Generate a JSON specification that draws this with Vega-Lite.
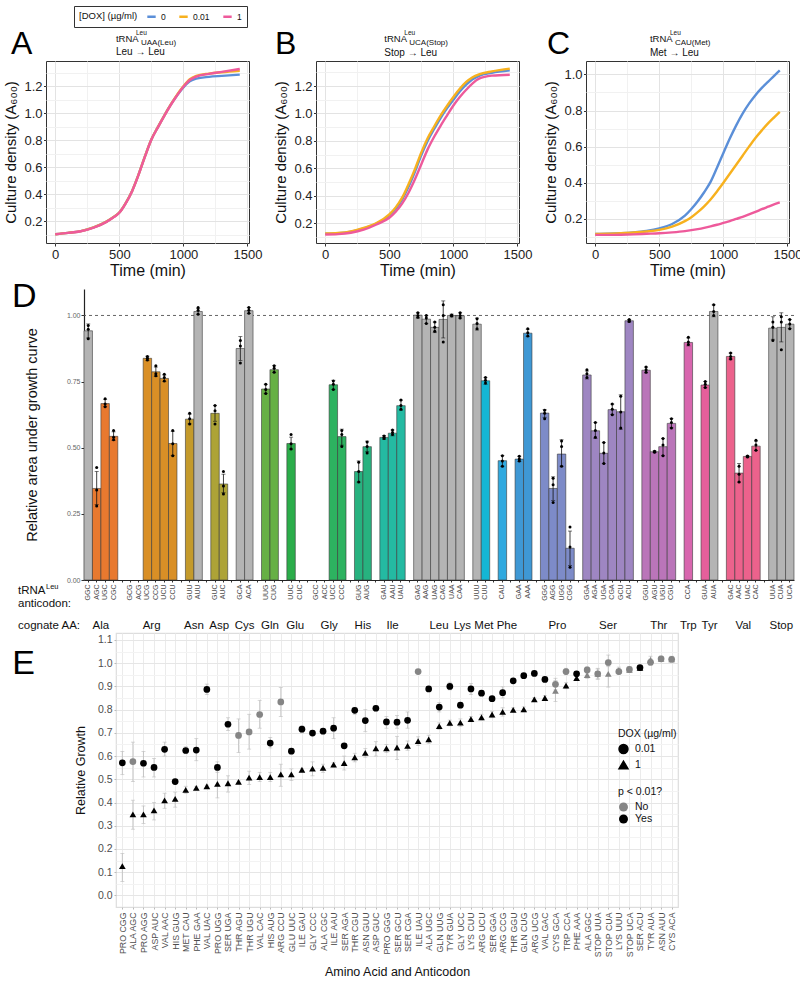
{
"$schema": "https://vega.github.io/schema/vega-lite/v6.json",
"background": "white",
"padding": {"left": 3, "top": 5, "right": 1, "bottom": 3},
"config": {"font": "Liberation Sans", "axis": {"titleFontWeight": "normal", "labelOverlap": false, "labelBound": false}, "legend": {"titleFontWeight": "normal"}},
"datasets": {
"curves": [
{"p":"A","d":"0","t":[0,100,200,300,400,450,500,550,600,650,700,750,800,850,900,950,1000,1050,1100,1200,1300,1440],"v":[0.105,0.115,0.128,0.155,0.198,0.228,0.265,0.335,0.425,0.545,0.68,0.805,0.895,0.98,1.06,1.13,1.19,1.235,1.255,1.268,1.275,1.284]},
{"p":"A","d":"0.01","t":[0,100,200,300,400,450,500,550,600,650,700,750,800,850,900,950,1000,1050,1100,1200,1300,1440],"v":[0.105,0.115,0.128,0.155,0.198,0.228,0.265,0.335,0.425,0.545,0.68,0.805,0.895,0.98,1.06,1.135,1.198,1.25,1.275,1.292,1.302,1.313]},
{"p":"A","d":"1","t":[0,100,200,300,400,450,500,550,600,650,700,750,800,850,900,950,1000,1050,1100,1200,1300,1440],"v":[0.105,0.115,0.127,0.153,0.196,0.226,0.263,0.333,0.423,0.543,0.678,0.803,0.893,0.978,1.058,1.13,1.195,1.245,1.27,1.29,1.305,1.326]},
{"p":"B","d":"0","t":[0,100,200,300,400,500,550,600,650,700,750,800,850,900,950,1000,1050,1100,1150,1200,1300,1440],"v":[0.122,0.126,0.138,0.162,0.196,0.257,0.305,0.372,0.465,0.575,0.697,0.802,0.887,0.967,1.037,1.1,1.16,1.21,1.25,1.275,1.297,1.315]},
{"p":"B","d":"0.01","t":[0,100,200,300,400,500,550,600,650,700,750,800,850,900,950,1000,1050,1100,1150,1200,1300,1440],"v":[0.124,0.128,0.14,0.165,0.2,0.264,0.315,0.386,0.484,0.594,0.716,0.821,0.905,0.985,1.055,1.12,1.18,1.23,1.265,1.286,1.307,1.327]},
{"p":"B","d":"1","t":[0,100,200,300,400,500,550,600,650,700,750,800,850,900,950,1000,1050,1100,1150,1200,1300,1440],"v":[0.117,0.12,0.13,0.152,0.19,0.239,0.283,0.342,0.422,0.52,0.63,0.74,0.83,0.91,0.985,1.058,1.12,1.173,1.22,1.254,1.276,1.283]},
{"p":"C","d":"0","t":[0,100,200,300,400,500,600,700,750,800,850,900,950,1000,1050,1100,1150,1200,1250,1300,1350,1400,1440],"v":[0.117,0.118,0.121,0.126,0.134,0.148,0.172,0.218,0.255,0.298,0.348,0.405,0.483,0.565,0.645,0.718,0.783,0.838,0.885,0.925,0.96,0.995,1.022]},
{"p":"C","d":"0.01","t":[0,100,200,300,400,500,600,700,750,800,850,900,950,1000,1050,1100,1150,1200,1250,1300,1350,1400,1440],"v":[0.117,0.118,0.121,0.125,0.131,0.14,0.158,0.188,0.21,0.238,0.27,0.308,0.352,0.4,0.45,0.5,0.55,0.6,0.648,0.69,0.73,0.765,0.793]},
{"p":"C","d":"1","t":[0,100,200,300,400,500,600,700,750,800,850,900,950,1000,1050,1100,1150,1200,1250,1300,1350,1400,1440],"v":[0.112,0.112,0.113,0.115,0.118,0.121,0.126,0.133,0.138,0.144,0.151,0.159,0.168,0.178,0.188,0.2,0.212,0.225,0.239,0.254,0.268,0.282,0.292]}
],
"bars": [
{"k":"Ala GGC","g":"ns","m":0.942,"lo":0.915,"hi":0.968,"r":[0.962,0.948,0.912]},
{"k":"Ala AGC","g":"Ala","m":0.346,"lo":0.285,"hi":0.41,"r":[0.425,0.34,0.28]},
{"k":"Ala UGC","g":"Ala","m":0.667,"lo":0.655,"hi":0.683,"r":[0.685,0.665,0.655]},
{"k":"Ala CGC","g":"Ala","m":0.543,"lo":0.528,"hi":0.56,"r":[0.565,0.54,0.53]},
{"k":"Arg UCG","g":"Arg","m":0.838,"lo":0.83,"hi":0.846,"r":[0.845,0.838,0.832]},
{"k":"Arg CCG","g":"Arg","m":0.787,"lo":0.77,"hi":0.805,"r":[0.81,0.78,0.772]},
{"k":"Arg UCU","g":"Arg","m":0.762,"lo":0.75,"hi":0.775,"r":[0.778,0.765,0.752]},
{"k":"Arg CCU","g":"Arg","m":0.516,"lo":0.47,"hi":0.562,"r":[0.565,0.515,0.47]},
{"k":"Asn GUU","g":"Asn","m":0.608,"lo":0.59,"hi":0.627,"r":[0.63,0.61,0.59]},
{"k":"Asn AUU","g":"ns","m":1.015,"lo":1.005,"hi":1.027,"r":[1.03,1.02,1.005]},
{"k":"Asp GUC","g":"Asp","m":0.63,"lo":0.6,"hi":0.66,"r":[0.66,0.64,0.59]},
{"k":"Asp AUC","g":"Asp","m":0.363,"lo":0.33,"hi":0.4,"r":[0.41,0.355,0.325]},
{"k":"Cys GCA","g":"ns","m":0.875,"lo":0.83,"hi":0.92,"r":[0.905,0.885,0.82]},
{"k":"Cys ACA","g":"ns","m":1.018,"lo":1.008,"hi":1.03,"r":[1.03,1.02,1.008]},
{"k":"Gln UUG","g":"Gln","m":0.722,"lo":0.705,"hi":0.74,"r":[0.74,0.72,0.705]},
{"k":"Gln CUG","g":"Gln","m":0.795,"lo":0.785,"hi":0.81,"r":[0.81,0.8,0.785]},
{"k":"Glu UUC","g":"Glu","m":0.516,"lo":0.495,"hi":0.54,"r":[0.55,0.515,0.495]},
{"k":"Gly UCC","g":"Gly","m":0.738,"lo":0.72,"hi":0.755,"r":[0.752,0.74,0.72]},
{"k":"Gly CCC","g":"Gly","m":0.542,"lo":0.51,"hi":0.57,"r":[0.565,0.55,0.505]},
{"k":"His GUG","g":"His","m":0.41,"lo":0.37,"hi":0.45,"r":[0.445,0.41,0.37]},
{"k":"His AUG","g":"His","m":0.504,"lo":0.485,"hi":0.525,"r":[0.522,0.505,0.48]},
{"k":"Ile GAU","g":"Ile","m":0.539,"lo":0.532,"hi":0.546,"r":[0.544,0.54,0.535]},
{"k":"Ile AAU","g":"Ile","m":0.555,"lo":0.545,"hi":0.567,"r":[0.567,0.558,0.55]},
{"k":"Ile UAU","g":"Ile","m":0.659,"lo":0.642,"hi":0.68,"r":[0.68,0.66,0.645]},
{"k":"Leu GAG","g":"ns","m":1.001,"lo":0.99,"hi":1.01,"r":[1.01,1.0,0.993]},
{"k":"Leu AAG","g":"ns","m":0.986,"lo":0.97,"hi":1.0,"r":[1.0,0.99,0.97]},
{"k":"Leu UAG","g":"ns","m":0.955,"lo":0.935,"hi":0.975,"r":[0.975,0.955,0.94]},
{"k":"Leu CAG","g":"ns","m":0.985,"lo":0.915,"hi":1.055,"r":[1.04,1.0,0.9]},
{"k":"Leu UAA","g":"ns","m":1.0,"lo":0.995,"hi":1.005,"r":[1.002,1.0,0.998]},
{"k":"Leu CAA","g":"ns","m":0.999,"lo":0.99,"hi":1.01,"r":[1.01,1.0,0.99]},
{"k":"Lys UUU","g":"ns","m":0.967,"lo":0.945,"hi":0.99,"r":[0.988,0.97,0.95]},
{"k":"Lys CUU","g":"Lys","m":0.753,"lo":0.74,"hi":0.765,"r":[0.765,0.755,0.745]},
{"k":"Met CAU","g":"Met","m":0.451,"lo":0.43,"hi":0.47,"r":[0.47,0.45,0.43]},
{"k":"Phe GAA","g":"Phe","m":0.457,"lo":0.448,"hi":0.468,"r":[0.468,0.457,0.45]},
{"k":"Phe AAA","g":"Phe","m":0.933,"lo":0.92,"hi":0.948,"r":[0.95,0.935,0.922]},
{"k":"Pro GGG","g":"Pro","m":0.631,"lo":0.615,"hi":0.645,"r":[0.642,0.63,0.61]},
{"k":"Pro AGG","g":"Pro","m":0.346,"lo":0.3,"hi":0.39,"r":[0.385,0.36,0.293]},
{"k":"Pro UGG","g":"Pro","m":0.476,"lo":0.43,"hi":0.53,"r":[0.525,0.505,0.43]},
{"k":"Pro CGG","g":"Pro","m":0.12,"lo":0.055,"hi":0.185,"r":[0.2,0.125,0.048]},
{"k":"Ser GGA","g":"Ser","m":0.775,"lo":0.76,"hi":0.79,"r":[0.795,0.78,0.765]},
{"k":"Ser AGA","g":"Ser","m":0.564,"lo":0.535,"hi":0.595,"r":[0.595,0.565,0.54]},
{"k":"Ser UGA","g":"Ser","m":0.479,"lo":0.44,"hi":0.52,"r":[0.52,0.48,0.44]},
{"k":"Ser CGA","g":"Ser","m":0.644,"lo":0.625,"hi":0.665,"r":[0.665,0.645,0.625]},
{"k":"Ser GCU","g":"Ser","m":0.636,"lo":0.57,"hi":0.7,"r":[0.695,0.635,0.575]},
{"k":"Ser ACU","g":"Ser","m":0.98,"lo":0.975,"hi":0.985,"r":[0.985,0.98,0.977]},
{"k":"Thr GGU","g":"Thr","m":0.793,"lo":0.783,"hi":0.805,"r":[0.805,0.795,0.785]},
{"k":"Thr AGU","g":"Thr","m":0.485,"lo":0.482,"hi":0.488,"r":[0.487,0.485,0.483]},
{"k":"Thr UGU","g":"Thr","m":0.504,"lo":0.47,"hi":0.535,"r":[0.535,0.51,0.47]},
{"k":"Thr CGU","g":"Thr","m":0.592,"lo":0.575,"hi":0.61,"r":[0.61,0.595,0.575]},
{"k":"Trp CCA","g":"Trp","m":0.898,"lo":0.885,"hi":0.915,"r":[0.918,0.9,0.89]},
{"k":"Tyr GUA","g":"Tyr","m":0.737,"lo":0.727,"hi":0.75,"r":[0.75,0.74,0.728]},
{"k":"Tyr AUA","g":"ns","m":1.015,"lo":0.995,"hi":1.04,"r":[1.04,1.015,1.0]},
{"k":"Val GAC","g":"Val","m":0.845,"lo":0.835,"hi":0.858,"r":[0.858,0.845,0.835]},
{"k":"Val AAC","g":"Val","m":0.404,"lo":0.37,"hi":0.44,"r":[0.43,0.4,0.37]},
{"k":"Val UAC","g":"Val","m":0.467,"lo":0.465,"hi":0.469,"r":[0.469,0.467,0.465]},
{"k":"Val CAC","g":"Val","m":0.506,"lo":0.49,"hi":0.525,"r":[0.528,0.51,0.49]},
{"k":"Stop UUA","g":"ns","m":0.952,"lo":0.91,"hi":0.995,"r":[0.975,0.955,0.905]},
{"k":"Stop CUA","g":"ns","m":0.955,"lo":0.9,"hi":1.01,"r":[0.995,0.975,0.87]},
{"k":"Stop UCA","g":"ns","m":0.967,"lo":0.95,"hi":0.985,"r":[0.985,0.968,0.95]}
],
"aag": [
{"aa":"Ala","at":"Ala AGC","n":4},{"aa":"Arg","at":"Arg UCG","n":6},{"aa":"Asn","at":"Asn GUU","n":2},{"aa":"Asp","at":"Asp GUC","n":2},{"aa":"Cys","at":"Cys GCA","n":2},{"aa":"Gln","at":"Gln UUG","n":2},{"aa":"Glu","at":"Glu UUC","n":2},{"aa":"Gly","at":"Gly ACC","n":4},{"aa":"His","at":"His GUG","n":2},{"aa":"Ile","at":"Ile AAU","n":3},{"aa":"Leu","at":"Leu UAG","n":6},{"aa":"Pro","at":"Pro AGG","n":4},{"aa":"Ser","at":"Ser UGA","n":6},{"aa":"Thr","at":"Thr AGU","n":4},{"aa":"Trp","at":"Trp CCA","n":1},{"aa":"Tyr","at":"Tyr GUA","n":2},{"aa":"Val","at":"Val AAC","n":4},{"aa":"Stop","at":"Stop CUA","n":3}
],
"E": [
{"k":"PRO CGG","d":"0.01","v":0.571,"lo":0.52,"hi":0.62,"s":"Yes"},{"k":"PRO CGG","d":"1","v":0.126,"lo":0.06,"hi":0.18,"s":"Yes"},
{"k":"ALA AGC","d":"0.01","v":0.576,"lo":0.49,"hi":0.66,"s":"No"},{"k":"ALA AGC","d":"1","v":0.349,"lo":0.285,"hi":0.41,"s":"Yes"},
{"k":"PRO AGG","d":"0.01","v":0.569,"lo":0.51,"hi":0.62,"s":"Yes"},{"k":"PRO AGG","d":"1","v":0.349,"lo":0.31,"hi":0.385,"s":"Yes"},
{"k":"ASP AUC","d":"0.01","v":0.551,"lo":0.51,"hi":0.59,"s":"Yes"},{"k":"ASP AUC","d":"1","v":0.366,"lo":0.325,"hi":0.4,"s":"Yes"},
{"k":"VAL AAC","d":"0.01","v":0.629,"lo":0.6,"hi":0.66,"s":"Yes"},{"k":"VAL AAC","d":"1","v":0.409,"lo":0.375,"hi":0.44,"s":"Yes"},
{"k":"HIS GUG","d":"0.01","v":0.49,"lo":0.48,"hi":0.5,"s":"Yes"},{"k":"HIS GUG","d":"1","v":0.416,"lo":0.38,"hi":0.445,"s":"Yes"},
{"k":"MET CAU","d":"0.01","v":0.624,"lo":0.61,"hi":0.64,"s":"Yes"},{"k":"MET CAU","d":"1","v":0.454,"lo":0.44,"hi":0.47,"s":"Yes"},
{"k":"PHE GAA","d":"0.01","v":0.626,"lo":0.58,"hi":0.675,"s":"Yes"},{"k":"PHE GAA","d":"1","v":0.463,"lo":0.455,"hi":0.47,"s":"Yes"},
{"k":"VAL UAC","d":"0.01","v":0.887,"lo":0.865,"hi":0.91,"s":"Yes"},{"k":"VAL UAC","d":"1","v":0.47,"lo":0.465,"hi":0.475,"s":"Yes"},
{"k":"PRO UGG","d":"0.01","v":0.551,"lo":0.53,"hi":0.575,"s":"Yes"},{"k":"PRO UGG","d":"1","v":0.48,"lo":0.42,"hi":0.54,"s":"Yes"},
{"k":"SER UGA","d":"0.01","v":0.737,"lo":0.71,"hi":0.765,"s":"Yes"},{"k":"SER UGA","d":"1","v":0.483,"lo":0.445,"hi":0.515,"s":"Yes"},
{"k":"THR AGU","d":"0.01","v":0.689,"lo":0.615,"hi":0.76,"s":"No"},{"k":"THR AGU","d":"1","v":0.489,"lo":0.485,"hi":0.493,"s":"Yes"},
{"k":"THR UGU","d":"0.01","v":0.704,"lo":0.63,"hi":0.78,"s":"No"},{"k":"THR UGU","d":"1","v":0.507,"lo":0.478,"hi":0.535,"s":"Yes"},
{"k":"VAL CAC","d":"0.01","v":0.779,"lo":0.72,"hi":0.84,"s":"No"},{"k":"VAL CAC","d":"1","v":0.509,"lo":0.49,"hi":0.53,"s":"Yes"},
{"k":"HIS AUG","d":"0.01","v":0.656,"lo":0.635,"hi":0.68,"s":"Yes"},{"k":"HIS AUG","d":"1","v":0.509,"lo":0.49,"hi":0.53,"s":"Yes"},
{"k":"ARG CCU","d":"0.01","v":0.833,"lo":0.77,"hi":0.895,"s":"No"},{"k":"ARG CCU","d":"1","v":0.521,"lo":0.47,"hi":0.565,"s":"Yes"},
{"k":"GLU UUC","d":"0.01","v":0.621,"lo":0.61,"hi":0.632,"s":"Yes"},{"k":"GLU UUC","d":"1","v":0.521,"lo":0.495,"hi":0.545,"s":"Yes"},
{"k":"ILE GAU","d":"0.01","v":0.716,"lo":0.7,"hi":0.73,"s":"Yes"},{"k":"ILE GAU","d":"1","v":0.541,"lo":0.535,"hi":0.547,"s":"Yes"},
{"k":"GLY CCC","d":"0.01","v":0.699,"lo":0.69,"hi":0.708,"s":"Yes"},{"k":"GLY CCC","d":"1","v":0.546,"lo":0.515,"hi":0.575,"s":"Yes"},
{"k":"ALA CGC","d":"0.01","v":0.707,"lo":0.698,"hi":0.716,"s":"Yes"},{"k":"ALA CGC","d":"1","v":0.549,"lo":0.53,"hi":0.565,"s":"Yes"},
{"k":"ILE AAU","d":"0.01","v":0.72,"lo":0.675,"hi":0.765,"s":"Yes"},{"k":"ILE AAU","d":"1","v":0.563,"lo":0.553,"hi":0.573,"s":"Yes"},
{"k":"SER AGA","d":"0.01","v":0.644,"lo":0.635,"hi":0.653,"s":"Yes"},{"k":"SER AGA","d":"1","v":0.57,"lo":0.54,"hi":0.6,"s":"Yes"},
{"k":"THR CGU","d":"0.01","v":0.797,"lo":0.78,"hi":0.81,"s":"Yes"},{"k":"THR CGU","d":"1","v":0.594,"lo":0.575,"hi":0.612,"s":"Yes"},
{"k":"ASN GUU","d":"0.01","v":0.753,"lo":0.705,"hi":0.8,"s":"Yes"},{"k":"ASN GUU","d":"1","v":0.614,"lo":0.595,"hi":0.632,"s":"Yes"},
{"k":"ASP GUC","d":"0.01","v":0.806,"lo":0.795,"hi":0.817,"s":"Yes"},{"k":"ASP GUC","d":"1","v":0.633,"lo":0.6,"hi":0.662,"s":"Yes"},
{"k":"PRO GGG","d":"0.01","v":0.747,"lo":0.72,"hi":0.77,"s":"Yes"},{"k":"PRO GGG","d":"1","v":0.633,"lo":0.615,"hi":0.65,"s":"Yes"},
{"k":"SER GCU","d":"0.01","v":0.746,"lo":0.72,"hi":0.775,"s":"Yes"},{"k":"SER GCU","d":"1","v":0.637,"lo":0.585,"hi":0.685,"s":"Yes"},
{"k":"SER CGA","d":"0.01","v":0.754,"lo":0.72,"hi":0.79,"s":"Yes"},{"k":"SER CGA","d":"1","v":0.644,"lo":0.625,"hi":0.665,"s":"Yes"},
{"k":"ILE UAU","d":"0.01","v":0.964,"lo":0.955,"hi":0.973,"s":"No"},{"k":"ILE UAU","d":"1","v":0.664,"lo":0.645,"hi":0.683,"s":"Yes"},
{"k":"ALA UGC","d":"0.01","v":0.889,"lo":0.88,"hi":0.898,"s":"Yes"},{"k":"ALA UGC","d":"1","v":0.672,"lo":0.655,"hi":0.69,"s":"Yes"},
{"k":"GLN UUG","d":"0.01","v":0.811,"lo":0.79,"hi":0.83,"s":"Yes"},{"k":"GLN UUG","d":"1","v":0.729,"lo":0.715,"hi":0.743,"s":"Yes"},
{"k":"TYR GUA","d":"0.01","v":0.9,"lo":0.885,"hi":0.918,"s":"Yes"},{"k":"TYR GUA","d":"1","v":0.743,"lo":0.73,"hi":0.755,"s":"Yes"},
{"k":"GLY UCC","d":"0.01","v":0.819,"lo":0.81,"hi":0.828,"s":"Yes"},{"k":"GLY UCC","d":"1","v":0.744,"lo":0.728,"hi":0.76,"s":"Yes"},
{"k":"LYS CUU","d":"0.01","v":0.889,"lo":0.865,"hi":0.912,"s":"Yes"},{"k":"LYS CUU","d":"1","v":0.759,"lo":0.748,"hi":0.77,"s":"Yes"},
{"k":"ARG UCU","d":"0.01","v":0.871,"lo":0.86,"hi":0.882,"s":"Yes"},{"k":"ARG UCU","d":"1","v":0.767,"lo":0.755,"hi":0.78,"s":"Yes"},
{"k":"SER GGA","d":"0.01","v":0.847,"lo":0.838,"hi":0.856,"s":"Yes"},{"k":"SER GGA","d":"1","v":0.779,"lo":0.765,"hi":0.793,"s":"Yes"},
{"k":"ARG CCG","d":"0.01","v":0.873,"lo":0.85,"hi":0.898,"s":"Yes"},{"k":"ARG CCG","d":"1","v":0.79,"lo":0.772,"hi":0.808,"s":"Yes"},
{"k":"THR GGU","d":"0.01","v":0.924,"lo":0.915,"hi":0.933,"s":"Yes"},{"k":"THR GGU","d":"1","v":0.799,"lo":0.79,"hi":0.808,"s":"Yes"},
{"k":"GLN CUG","d":"0.01","v":0.946,"lo":0.938,"hi":0.954,"s":"Yes"},{"k":"GLN CUG","d":"1","v":0.801,"lo":0.79,"hi":0.812,"s":"Yes"},
{"k":"ARG UCG","d":"0.01","v":0.956,"lo":0.95,"hi":0.962,"s":"Yes"},{"k":"ARG UCG","d":"1","v":0.844,"lo":0.836,"hi":0.852,"s":"Yes"},
{"k":"VAL GAC","d":"0.01","v":0.93,"lo":0.92,"hi":0.94,"s":"Yes"},{"k":"VAL GAC","d":"1","v":0.85,"lo":0.84,"hi":0.86,"s":"Yes"},
{"k":"CYS GCA","d":"0.01","v":0.909,"lo":0.885,"hi":0.935,"s":"No"},{"k":"CYS GCA","d":"1","v":0.881,"lo":0.835,"hi":0.925,"s":"No"},
{"k":"TRP CCA","d":"0.01","v":0.964,"lo":0.95,"hi":0.978,"s":"No"},{"k":"TRP CCA","d":"1","v":0.903,"lo":0.89,"hi":0.916,"s":"Yes"},
{"k":"PHE AAA","d":"0.01","v":0.954,"lo":0.945,"hi":0.963,"s":"Yes"},{"k":"PHE AAA","d":"1","v":0.936,"lo":0.925,"hi":0.947,"s":"Yes"},
{"k":"ALA GGC","d":"0.01","v":0.971,"lo":0.958,"hi":0.984,"s":"No"},{"k":"ALA GGC","d":"1","v":0.949,"lo":0.935,"hi":0.963,"s":"No"},
{"k":"STOP UUA","d":"0.01","v":0.954,"lo":0.935,"hi":0.975,"s":"No"},{"k":"STOP UUA","d":"1","v":0.954,"lo":0.93,"hi":0.978,"s":"No"},
{"k":"STOP CUA","d":"0.01","v":1.003,"lo":0.985,"hi":1.035,"s":"No"},{"k":"STOP CUA","d":"1","v":0.954,"lo":0.897,"hi":0.99,"s":"No"},
{"k":"LYS UUU","d":"0.01","v":0.964,"lo":0.952,"hi":0.976,"s":"No"},{"k":"LYS UUU","d":"1","v":0.969,"lo":0.955,"hi":0.983,"s":"No"},
{"k":"STOP UCA","d":"0.01","v":0.973,"lo":0.962,"hi":0.984,"s":"No"},{"k":"STOP UCA","d":"1","v":0.971,"lo":0.96,"hi":0.982,"s":"No"},
{"k":"SER ACU","d":"0.01","v":0.981,"lo":0.976,"hi":0.986,"s":"Yes"},{"k":"SER ACU","d":"1","v":0.98,"lo":0.975,"hi":0.985,"s":"Yes"},
{"k":"TYR AUA","d":"0.01","v":1.004,"lo":0.99,"hi":1.018,"s":"No"},{"k":"TYR AUA","d":"1","v":1.014,"lo":1.0,"hi":1.03,"s":"No"},
{"k":"ASN AUU","d":"0.01","v":1.019,"lo":1.008,"hi":1.03,"s":"No"},{"k":"ASN AUU","d":"1","v":1.019,"lo":1.008,"hi":1.03,"s":"No"},
{"k":"CYS ACA","d":"0.01","v":1.017,"lo":1.005,"hi":1.03,"s":"No"},{"k":"CYS ACA","d":"1","v":1.017,"lo":1.006,"hi":1.028,"s":"No"}
]
},
"spacing": 0,
"resolve": {"scale": {"x": "independent", "y": "independent", "color": "independent", "shape": "independent"}, "legend": {"color": "independent", "shape": "independent"}},
"vconcat": [
{
"hconcat": [
{
"width": 203, "height": 182,
"view": {"stroke": "#333333", "strokeWidth": 1},
"layer": [
{"data": {"name": "curves"}, "transform": [{"filter": "datum.p == 'A'"}, {"flatten": ["t", "v"]}],
 "mark": {"type": "line", "strokeWidth": 2.4, "interpolate": "monotone", "clip": true},
 "encoding": {
  "x": {"field": "t", "type": "quantitative", "scale": {"domain": [-72, 1512], "nice": false, "zero": false},
   "axis": {"title": "Time (min)", "values": [0,250,500,750,1000,1250,1500], "tickCount": 50, "format": "d", "labelExpr": "datum.value % 500 == 0 ? datum.label : ''", "labelFlush": false, "labelOverlap": false, "labelFontSize": 13, "labelColor": "#222", "labelPadding": 2, "tickColor": "#333", "tickSize": 3, "tickOpacity": {"condition": {"test": "datum.value % 500 == 0", "value": 1}, "value": 0}, "domain": false, "grid": true, "gridColor": {"condition": {"test": "datum.value % 500 == 0", "value": "#E3E3E3"}, "value": "#F1F1F1"}, "titleFontSize": 16, "titleColor": "#111", "titlePadding": 1}},
  "y": {"field": "v", "type": "quantitative", "scale": {"domain": [0.04, 1.385], "nice": false, "zero": false},
   "axis": {"title": "Culture density (A₆₀₀)", "values": [0.1,0.2,0.3,0.4,0.5,0.6,0.7,0.8,0.9,1.0,1.1,1.2,1.3], "tickCount": 50, "format": ".1f", "labelExpr": "round(datum.value*10) % 2 == 0 ? datum.label : ''", "labelOverlap": false, "labelFlush": false, "labelFontSize": 13, "labelColor": "#222", "labelPadding": 1.5, "tickColor": "#333", "tickSize": 2.5, "tickOpacity": {"condition": {"test": "round(datum.value*10) % 2 == 0", "value": 1}, "value": 0}, "domain": false, "grid": true, "gridColor": {"condition": {"test": "round(datum.value*10) % 2 == 0", "value": "#E3E3E3"}, "value": "#F1F1F1"}, "titleFontSize": 15, "titleColor": "#111", "titlePadding": 5}},
  "color": {"field": "d", "type": "nominal", "scale": {"domain": ["0","0.01","1"], "range": ["#5B8FD8","#F7B11E","#EE5A9B"]},
   "legend": {"orient": "none", "legendX": 28, "legendY": -55, "direction": "horizontal", "titleOrient": "left", "title": "[DOX] (µg/ml)", "titleFontSize": 9.5, "titleColor": "#111", "titlePadding": 8, "labelFontSize": 8.5, "labelColor": "#111", "symbolType": "stroke", "symbolStrokeWidth": 2.5, "symbolSize": 70, "strokeColor": "#333", "fillColor": "white", "padding": 5, "columnPadding": 8, "labelOffset": 4}}
 }},
{"data": {"values": [{"s": "tRNA"}]}, "mark": {"type": "text", "align": "left", "fontSize": 9.5, "color": "#111"}, "encoding": {"x": {"datum": 474, "type": "quantitative"}, "y": {"datum": 1.548, "type": "quantitative"}, "text": {"field": "s"}}},
{"data": {"values": [{"s": "Leu"}]}, "mark": {"type": "text", "align": "left", "fontSize": 6.5, "dx": 20, "color": "#111"}, "encoding": {"x": {"datum": 474, "type": "quantitative"}, "y": {"datum": 1.595, "type": "quantitative"}, "text": {"field": "s"}}},
{"data": {"values": [{"s": "UAA(Leu)"}]}, "mark": {"type": "text", "align": "left", "fontSize": 8, "dx": 25, "color": "#111"}, "encoding": {"x": {"datum": 474, "type": "quantitative"}, "y": {"datum": 1.515, "type": "quantitative"}, "text": {"field": "s"}}},
{"data": {"values": [{"s": "Leu → Leu"}]}, "mark": {"type": "text", "align": "left", "fontSize": 10, "color": "#111"}, "encoding": {"x": {"datum": 474, "type": "quantitative"}, "y": {"datum": 1.448, "type": "quantitative"}, "text": {"field": "s"}}},
{"data": {"values": [{"s": "A"}]}, "mark": {"type": "text", "align": "left", "fontSize": 32, "color": "#000"}, "encoding": {"x": {"datum": -345, "type": "quantitative"}, "y": {"datum": 1.511, "type": "quantitative"}, "text": {"field": "s"}}}
]
},
{
"width": 203, "height": 182,
"view": {"stroke": "#333333", "strokeWidth": 1},
"layer": [
{"data": {"name": "curves"}, "transform": [{"filter": "datum.p == 'B'"}, {"flatten": ["t", "v"]}],
 "mark": {"type": "line", "strokeWidth": 2.4, "interpolate": "monotone", "clip": true},
 "encoding": {
  "x": {"field": "t", "type": "quantitative", "scale": {"domain": [-72, 1512], "nice": false, "zero": false},
   "axis": {"title": "Time (min)", "values": [0,250,500,750,1000,1250,1500], "tickCount": 50, "format": "d", "labelExpr": "datum.value % 500 == 0 ? datum.label : ''", "labelFlush": false, "labelOverlap": false, "labelFontSize": 13, "labelColor": "#222", "labelPadding": 2, "tickColor": "#333", "tickSize": 3, "tickOpacity": {"condition": {"test": "datum.value % 500 == 0", "value": 1}, "value": 0}, "domain": false, "grid": true, "gridColor": {"condition": {"test": "datum.value % 500 == 0", "value": "#E3E3E3"}, "value": "#F1F1F1"}, "titleFontSize": 16, "titleColor": "#111", "titlePadding": 1}},
  "y": {"field": "v", "type": "quantitative", "scale": {"domain": [0.055, 1.383], "nice": false, "zero": false},
   "axis": {"title": "Culture density (A₆₀₀)", "values": [0.1,0.2,0.3,0.4,0.5,0.6,0.7,0.8,0.9,1.0,1.1,1.2,1.3], "tickCount": 50, "format": ".1f", "labelExpr": "round(datum.value*10) % 2 == 0 ? datum.label : ''", "labelOverlap": false, "labelFlush": false, "labelFontSize": 13, "labelColor": "#222", "labelPadding": 1.5, "tickColor": "#333", "tickSize": 2.5, "tickOpacity": {"condition": {"test": "round(datum.value*10) % 2 == 0", "value": 1}, "value": 0}, "domain": false, "grid": true, "gridColor": {"condition": {"test": "round(datum.value*10) % 2 == 0", "value": "#E3E3E3"}, "value": "#F1F1F1"}, "titleFontSize": 15, "titleColor": "#111", "titlePadding": 5}},
  "color": {"field": "d", "type": "nominal", "scale": {"domain": ["0","0.01","1"], "range": ["#5B8FD8","#F7B11E","#EE5A9B"]}, "legend": null}
 }},
{"data": {"values": [{"s": "tRNA"}]}, "mark": {"type": "text", "align": "left", "fontSize": 9.5, "color": "#111"}, "encoding": {"x": {"datum": 461, "type": "quantitative"}, "y": {"datum": 1.544, "type": "quantitative"}, "text": {"field": "s"}}},
{"data": {"values": [{"s": "Leu"}]}, "mark": {"type": "text", "align": "left", "fontSize": 6.5, "dx": 20, "color": "#111"}, "encoding": {"x": {"datum": 461, "type": "quantitative"}, "y": {"datum": 1.59, "type": "quantitative"}, "text": {"field": "s"}}},
{"data": {"values": [{"s": "UCA(Stop)"}]}, "mark": {"type": "text", "align": "left", "fontSize": 8, "dx": 25, "color": "#111"}, "encoding": {"x": {"datum": 461, "type": "quantitative"}, "y": {"datum": 1.511, "type": "quantitative"}, "text": {"field": "s"}}},
{"data": {"values": [{"s": "Stop → Leu"}]}, "mark": {"type": "text", "align": "left", "fontSize": 10, "color": "#111"}, "encoding": {"x": {"datum": 461, "type": "quantitative"}, "y": {"datum": 1.445, "type": "quantitative"}, "text": {"field": "s"}}},
{"data": {"values": [{"s": "B"}]}, "mark": {"type": "text", "align": "left", "fontSize": 32, "color": "#000"}, "encoding": {"x": {"datum": -392, "type": "quantitative"}, "y": {"datum": 1.507, "type": "quantitative"}, "text": {"field": "s"}}}
]
},
{
"width": 203, "height": 182,
"view": {"stroke": "#333333", "strokeWidth": 1},
"layer": [
{"data": {"name": "curves"}, "transform": [{"filter": "datum.p == 'C'"}, {"flatten": ["t", "v"]}],
 "mark": {"type": "line", "strokeWidth": 2.4, "interpolate": "monotone", "clip": true},
 "encoding": {
  "x": {"field": "t", "type": "quantitative", "scale": {"domain": [-72, 1512], "nice": false, "zero": false},
   "axis": {"title": "Time (min)", "values": [0,250,500,750,1000,1250,1500], "tickCount": 50, "format": "d", "labelExpr": "datum.value % 500 == 0 ? datum.label : ''", "labelFlush": false, "labelOverlap": false, "labelFontSize": 13, "labelColor": "#222", "labelPadding": 2, "tickColor": "#333", "tickSize": 3, "tickOpacity": {"condition": {"test": "datum.value % 500 == 0", "value": 1}, "value": 0}, "domain": false, "grid": true, "gridColor": {"condition": {"test": "datum.value % 500 == 0", "value": "#E3E3E3"}, "value": "#F1F1F1"}, "titleFontSize": 16, "titleColor": "#111", "titlePadding": 1}},
  "y": {"field": "v", "type": "quantitative", "scale": {"domain": [0.067, 1.074], "nice": false, "zero": false},
   "axis": {"title": "Culture density (A₆₀₀)", "values": [0.1,0.2,0.3,0.4,0.5,0.6,0.7,0.8,0.9,1.0], "tickCount": 50, "format": ".1f", "labelExpr": "round(datum.value*10) % 2 == 0 ? datum.label : ''", "labelOverlap": false, "labelFlush": false, "labelFontSize": 13, "labelColor": "#222", "labelPadding": 1.5, "tickColor": "#333", "tickSize": 2.5, "tickOpacity": {"condition": {"test": "round(datum.value*10) % 2 == 0", "value": 1}, "value": 0}, "domain": false, "grid": true, "gridColor": {"condition": {"test": "round(datum.value*10) % 2 == 0", "value": "#E3E3E3"}, "value": "#F1F1F1"}, "titleFontSize": 15, "titleColor": "#111", "titlePadding": 5}},
  "color": {"field": "d", "type": "nominal", "scale": {"domain": ["0","0.01","1"], "range": ["#5B8FD8","#F7B11E","#EE5A9B"]}, "legend": null}
 }},
{"data": {"values": [{"s": "tRNA"}]}, "mark": {"type": "text", "align": "left", "fontSize": 9.5, "color": "#111"}, "encoding": {"x": {"datum": 427, "type": "quantitative"}, "y": {"datum": 1.196, "type": "quantitative"}, "text": {"field": "s"}}},
{"data": {"values": [{"s": "Leu"}]}, "mark": {"type": "text", "align": "left", "fontSize": 6.5, "dx": 20, "color": "#111"}, "encoding": {"x": {"datum": 427, "type": "quantitative"}, "y": {"datum": 1.231, "type": "quantitative"}, "text": {"field": "s"}}},
{"data": {"values": [{"s": "CAU(Met)"}]}, "mark": {"type": "text", "align": "left", "fontSize": 8, "dx": 25, "color": "#111"}, "encoding": {"x": {"datum": 427, "type": "quantitative"}, "y": {"datum": 1.171, "type": "quantitative"}, "text": {"field": "s"}}},
{"data": {"values": [{"s": "Met → Leu"}]}, "mark": {"type": "text", "align": "left", "fontSize": 10, "color": "#111"}, "encoding": {"x": {"datum": 427, "type": "quantitative"}, "y": {"datum": 1.121, "type": "quantitative"}, "text": {"field": "s"}}},
{"data": {"values": [{"s": "C"}]}, "mark": {"type": "text", "align": "left", "fontSize": 32, "color": "#000"}, "encoding": {"x": {"datum": -376, "type": "quantitative"}, "y": {"datum": 1.168, "type": "quantitative"}, "text": {"field": "s"}}}
]
}
],
"spacing": 67,
"bounds": "flush",
"resolve": {"scale": {"x": "independent", "y": "independent", "color": "independent"}, "legend": {"color": "independent"}}
},
{
"hconcat": [
{"width": 38, "height": 10, "view": {"stroke": null}, "data": {"values": []}, "mark": "point"},
{
"width": 710, "height": 291,
"view": {"stroke": null},
"data": {"name": "bars"},
"layer": [
{"data": {"values": [{}]}, "mark": {"type": "rule", "strokeDash": [3, 3], "color": "#555", "strokeWidth": 0.9}, "encoding": {"y": {"datum": 1, "type": "quantitative"}}},
{"mark": {"type": "bar", "stroke": "#3a3a3a", "strokeWidth": 0.6},
 "encoding": {
  "x": {"field": "k", "type": "nominal", "scale": {"domain": ["Ala GGC","Ala AGC","Ala UGC","Ala CGC","_1","Arg GCG","Arg ACG","Arg UCG","Arg CCG","Arg UCU","Arg CCU","_2","Asn GUU","Asn AUU","_3","Asp GUC","Asp AUC","_4","Cys GCA","Cys ACA","_5","Gln UUG","Gln CUG","_6","Glu UUC","Glu CUC","_7","Gly GCC","Gly ACC","Gly UCC","Gly CCC","_8","His GUG","His AUG","_9","Ile GAU","Ile AAU","Ile UAU","_10","Leu GAG","Leu AAG","Leu UAG","Leu CAG","Leu UAA","Leu CAA","_11","Lys UUU","Lys CUU","_12","Met CAU","_13","Phe GAA","Phe AAA","_14","Pro GGG","Pro AGG","Pro UGG","Pro CGG","_15","Ser GGA","Ser AGA","Ser UGA","Ser CGA","Ser GCU","Ser ACU","_16","Thr GGU","Thr AGU","Thr UGU","Thr CGU","_17","Trp CCA","_18","Tyr GUA","Tyr AUA","_19","Val GAC","Val AAC","Val UAC","Val CAC","_20","Stop UUA","Stop CUA","Stop UCA"], "paddingInner": 0, "paddingOuter": 0},
   "axis": {"title": null, "labelAngle": -90, "labelFontSize": 7, "labelColor": "#4d4d4d", "labelPadding": 2, "labelOverlap": false, "labelExpr": "indexof(datum.value, ' ') < 0 ? '' : split(datum.value, ' ')[1]", "tickSize": 2, "tickColor": "#333", "domainColor": "#222", "domainWidth": 1.2, "grid": false}},
  "y": {"field": "m", "type": "quantitative", "title": "Relative area under growth curve", "scale": {"domain": [0, 1.1], "nice": false, "zero": false},
   "axis": {"values": [0, 0.25, 0.5, 0.75, 1], "tickCount": 50, "format": ".2f", "labelFontSize": 7, "labelColor": "#666", "labelPadding": 1, "tickSize": 3, "tickColor": "#333", "domainColor": "#222", "domainWidth": 1.2, "grid": false, "titleFontSize": 14.5, "titleColor": "#111", "titlePadding": 27}},
  "color": {"field": "g", "type": "nominal", "scale": {"domain": ["Ala","Arg","Asn","Asp","Cys","Gln","Glu","Gly","His","Ile","Leu","Lys","Met","Phe","Pro","Ser","Thr","Trp","Tyr","Val","ns"], "range": ["#E8792F","#D98F26","#C49A2B","#ADA337","#B4B4B4","#67B045","#2BAD4A","#2DB260","#27B27F","#24BAA2","#B4B4B4","#14B6D4","#30A9DF","#3F98D4","#7D8BC8","#9E86C2","#BA75B9","#D866AE","#E55F9B","#EC628C","#B4B4B4"]}, "legend": null}
 }},
{"mark": {"type": "errorbar", "ticks": {"size": 4}, "thickness": 0.8, "color": "#111"},
 "encoding": {"x": {"field": "k", "type": "nominal"}, "y": {"field": "lo", "type": "quantitative", "title": "Relative area under growth curve"}, "y2": {"field": "hi"}}},
{"transform": [{"flatten": ["r"]}], "mark": {"type": "circle", "size": 9, "color": "#000", "opacity": 1},
 "encoding": {"x": {"field": "k", "type": "nominal"}, "y": {"field": "r", "type": "quantitative", "title": "Relative area under growth curve"}}},
{"data": {"name": "aag"}, "transform": [{"filter": "datum.n % 2 == 1"}], "mark": {"type": "text", "fontSize": 11.5, "color": "#111"},
 "encoding": {"x": {"field": "at", "type": "nominal", "bandPosition": 0.5}, "y": {"datum": -0.1727, "type": "quantitative"}, "text": {"field": "aa"}}},
{"data": {"name": "aag"}, "transform": [{"filter": "datum.n % 2 == 0"}], "mark": {"type": "text", "fontSize": 11.5, "color": "#111"},
 "encoding": {"x": {"field": "at", "type": "nominal", "bandPosition": 1}, "y": {"datum": -0.1727, "type": "quantitative"}, "text": {"field": "aa"}}},
{"data": {"values": [{"s": "Lys Met Phe"}]}, "mark": {"type": "text", "fontSize": 11.5, "color": "#111", "dx": -17},
 "encoding": {"x": {"datum": "Met CAU", "bandPosition": 0.5}, "y": {"datum": -0.1727, "type": "quantitative"}, "text": {"field": "s"}}},
{"data": {"values": [{"s": "tRNA"}]}, "mark": {"type": "text", "align": "left", "fontSize": 11.5, "color": "#111", "dx": -66},
 "encoding": {"x": {"datum": "Ala GGC", "bandPosition": 0}, "y": {"datum": -0.0404, "type": "quantitative"}, "text": {"field": "s"}}},
{"data": {"values": [{"s": "Leu"}]}, "mark": {"type": "text", "align": "left", "fontSize": 7.5, "color": "#111", "dx": -38},
 "encoding": {"x": {"datum": "Ala GGC", "bandPosition": 0}, "y": {"datum": -0.0253, "type": "quantitative"}, "text": {"field": "s"}}},
{"data": {"values": [{"s": "anticodon:"}]}, "mark": {"type": "text", "align": "left", "fontSize": 11.5, "color": "#111", "dx": -66},
 "encoding": {"x": {"datum": "Ala GGC", "bandPosition": 0}, "y": {"datum": -0.0896, "type": "quantitative"}, "text": {"field": "s"}}},
{"data": {"values": [{"s": "cognate AA:"}]}, "mark": {"type": "text", "align": "left", "fontSize": 11.5, "color": "#111", "dx": -66},
 "encoding": {"x": {"datum": "Ala GGC", "bandPosition": 0}, "y": {"datum": -0.1727, "type": "quantitative"}, "text": {"field": "s"}}},
{"data": {"values": [{"s": "D"}]}, "mark": {"type": "text", "align": "left", "fontSize": 34, "color": "#000", "dx": -72},
 "encoding": {"x": {"datum": "Ala GGC", "bandPosition": 0}, "y": {"datum": 1.0707, "type": "quantitative"}, "text": {"field": "s"}}}
]
}
],
"spacing": 0,
"bounds": "flush"
},
{
"hconcat": [
{"width": 70, "height": 10, "view": {"stroke": null}, "data": {"values": []}, "mark": "point"},
{
"width": 562, "height": 274,
"view": {"stroke": "#DDDDDD", "strokeWidth": 1.2},
"data": {"name": "E"},
"layer": [
{"mark": {"type": "errorbar", "ticks": {"size": 4}, "thickness": 0.8, "color": "#BBBBBB"},
 "encoding": {
  "x": {"field": "k", "type": "nominal", "sort": null, "scale": {"type": "point", "padding": 0.6},
   "axis": {"title": "Amino Acid and Anticodon", "labelAngle": -90, "labelFontSize": 8.8, "labelColor": "#4d4d4d", "labelPadding": 3, "labelOverlap": false, "tickSize": 2, "tickColor": "#BBB", "domain": false, "grid": true, "gridColor": "#EBEBEB", "titleFontSize": 12.5, "titleColor": "#111", "titlePadding": 9}},
  "y": {"field": "lo", "type": "quantitative", "title": "Relative Growth", "scale": {"domain": [-0.05, 1.13], "nice": false, "zero": false},
   "axis": {"values": [0,0.05,0.1,0.15,0.2,0.25,0.3,0.35,0.4,0.45,0.5,0.55,0.6,0.65,0.7,0.75,0.8,0.85,0.9,0.95,1.0,1.05,1.1], "tickCount": 50, "format": ".1f", "labelExpr": "round(datum.value*100) % 10 == 0 ? datum.label : ''", "labelOverlap": false, "labelFlush": false, "labelFontSize": 10.5, "labelColor": "#4d4d4d", "labelPadding": 2, "tickSize": 2, "tickColor": "#BBB", "tickOpacity": {"condition": {"test": "round(datum.value*100) % 10 == 0", "value": 1}, "value": 0}, "domain": false, "grid": true, "gridColor": {"condition": {"test": "round(datum.value*100) % 10 == 0", "value": "#E6E6E6"}, "value": "#F3F3F3"}, "titleFontSize": 12.5, "titleColor": "#111", "titlePadding": 10}},
  "y2": {"field": "hi"}
 }},
{"mark": {"type": "point", "filled": true, "opacity": 1, "size": 45},
 "encoding": {
  "x": {"field": "k", "type": "nominal", "sort": null},
  "y": {"field": "v", "type": "quantitative", "title": "Relative Growth"},
  "shape": {"field": "d", "type": "nominal", "scale": {"domain": ["0.01","1"], "range": ["circle","triangle-up"]},
   "legend": {"orient": "none", "legendX": 572, "legendY": 96, "title": "DOX (µg/ml)", "titleFontSize": 10.5, "titleColor": "#111", "titlePadding": 4, "labelFontSize": 10.5, "labelColor": "#111", "symbolFillColor": "#000", "symbolStrokeColor": "#000", "symbolSize": 80, "rowPadding": 1, "labelOffset": 6}},
  "color": {"field": "s", "type": "nominal", "scale": {"domain": ["No","Yes"], "range": ["#858585","#000000"]},
   "legend": {"orient": "none", "legendX": 572, "legendY": 154, "title": "p < 0.01?", "titleFontSize": 10.5, "titleColor": "#111", "titlePadding": 4, "labelFontSize": 10.5, "labelColor": "#111", "symbolType": "circle", "symbolSize": 80, "rowPadding": 1, "labelOffset": 6}}
 }},
{"data": {"values": [{"s": "E"}]}, "mark": {"type": "text", "align": "left", "fontSize": 34, "color": "#000", "dx": -110},
 "encoding": {"x": {"datum": "PRO CGG"}, "y": {"datum": 0.995, "type": "quantitative"}, "text": {"field": "s"}}}
]
}
],
"spacing": 0,
"bounds": "flush"
}
]
}
